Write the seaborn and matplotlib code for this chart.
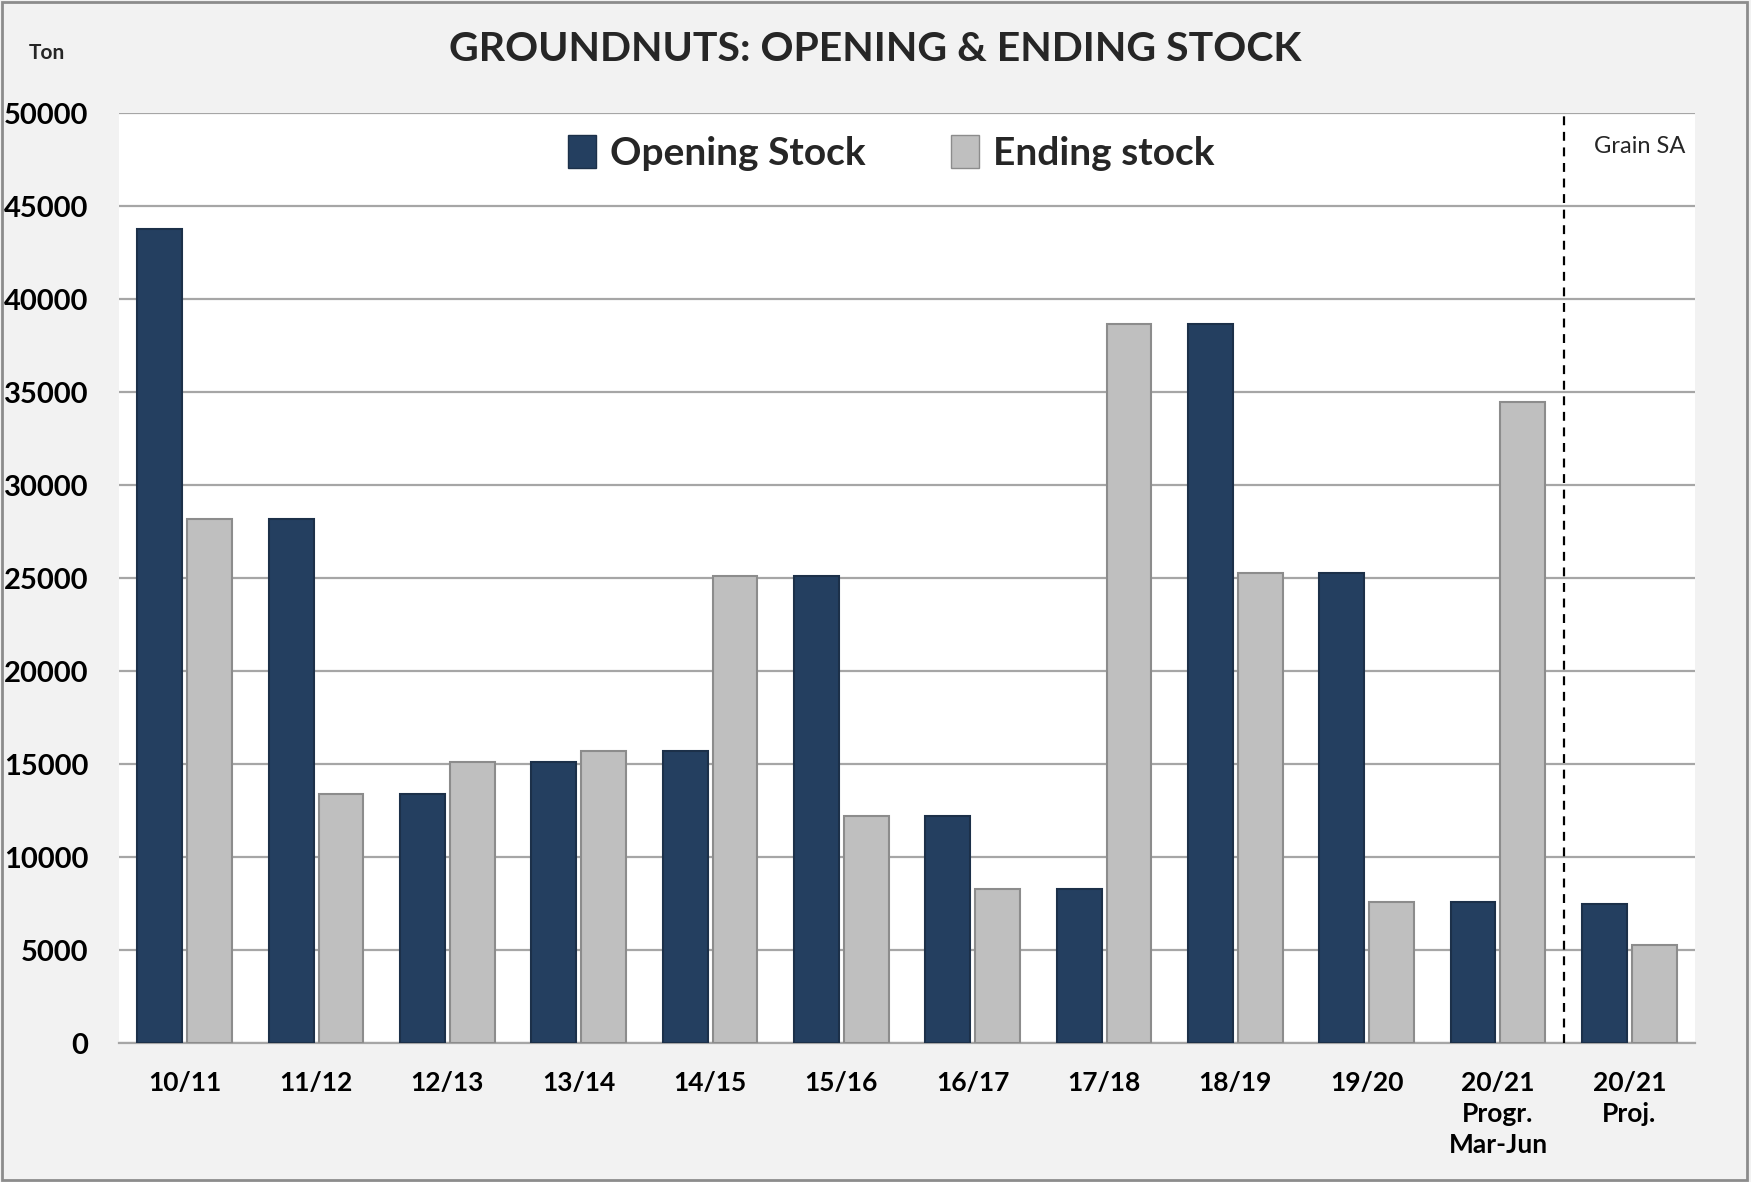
import matplotlib
matplotlib.use("Agg")
import matplotlib.pyplot as plt
import seaborn as sns
import pandas as pd
from matplotlib.patches import Patch

# Дані (тонн)
seasons = ['10/11', '11/12', '12/13', '13/14', '14/15', '15/16', '16/17',
           '17/18', '18/19', '19/20', '20/21\nProgr.\nMar-Jun', '20/21\nProj.']
opening_stock = [43800, 28200, 13400, 15100, 15700, 25100, 12200,
                 8300, 38700, 25300, 7600, 7500]
ending_stock = [28200, 13400, 15100, 15700, 25100, 12200, 8300,
                38700, 25300, 7600, 34500, 5300]
series_names = ['Opening Stock', 'Ending stock']

NAVY = '#243f60'
GREY = '#bfbfbf'
BG = '#f2f2f2'

df = pd.DataFrame({
    'season': seasons * 2,
    'stock': opening_stock + ending_stock,
    'series': [series_names[0]] * len(seasons) + [series_names[1]] * len(seasons),
})

sns.set_style('white')
plt.rcParams['font.family'] = ['Lato', 'DejaVu Sans']

fig = plt.figure(figsize=(17.51, 11.82), dpi=100, facecolor=BG)
ax = fig.add_axes([0.068, 0.1175, 0.9, 0.7865])
ax.set_facecolor('white')

sns.barplot(data=df, x='season', y='stock', hue='series', hue_order=series_names,
            order=seasons, palette=[NAVY, GREY], width=0.76, gap=0.1,
            saturation=1, ax=ax, legend=False, zorder=3)

edge_cols = ['#1c3049', '#8c8c8c']
for cont, ec in zip(ax.containers, edge_cols):
    for bar in cont:
        bar.set_edgecolor(ec)
        bar.set_linewidth(1.5)

ax.set_ylim(0, 50000)
ax.set_xlim(-0.5, len(seasons) - 0.5)
ax.set_yticks(range(0, 50001, 5000))
ax.yaxis.grid(True, color='#a6a6a6', linewidth=1.6, zorder=0)
ax.set_axisbelow(True)
for side in ['left', 'right', 'top']:
    ax.spines[side].set_visible(False)
ax.spines['bottom'].set_color('#a6a6a6')
ax.spines['bottom'].set_linewidth(1.6)
ax.tick_params(axis='y', length=0, pad=22, labelsize=21, labelcolor='black')
ax.tick_params(axis='x', length=0, pad=20, labelsize=19, labelcolor='black')
for lbl in ax.get_yticklabels():
    lbl.set_fontweight('bold')
for lbl in ax.get_xticklabels():
    lbl.set_fontweight('bold')
    lbl.set_linespacing(1.35)
ax.set_xlabel('')
ax.set_ylabel('')

# Пунктирна лінія між прогнозом і проекцією
ax.axvline(10.5, color='black', linestyle=(0, (4, 3)), linewidth=1.6, zorder=4)
ax.text(0.994, 0.965, 'Grain SA', transform=ax.transAxes, ha='right', va='center',
        fontsize=17)

handles = [Patch(facecolor=NAVY, edgecolor=edge_cols[0]),
           Patch(facecolor=GREY, edgecolor=edge_cols[1])]
ax.legend(handles, series_names, loc='upper center', bbox_to_anchor=(0.49, 1.015),
          ncol=2, frameon=False, handlelength=0.72, handleheight=0.95,
          handletextpad=0.35, columnspacing=2.2,
          prop={'weight': 'bold', 'size': 28})

fig.text(0.5, 0.958, 'GROUNDNUTS: OPENING & ENDING STOCK', ha='center', va='center',
         fontsize=29.5, fontweight='bold')
fig.text(0.027, 0.955, 'Ton', ha='center', va='center', fontsize=15, fontweight='bold')

# Рамка навколо рисунка
fig.patches.append(plt.Rectangle((0.001, 0.002), 0.997, 0.996, transform=fig.transFigure,
                                 fill=False, edgecolor='#8c8c8c', linewidth=2))

fig.savefig('out.png', dpi=100, facecolor=BG)
